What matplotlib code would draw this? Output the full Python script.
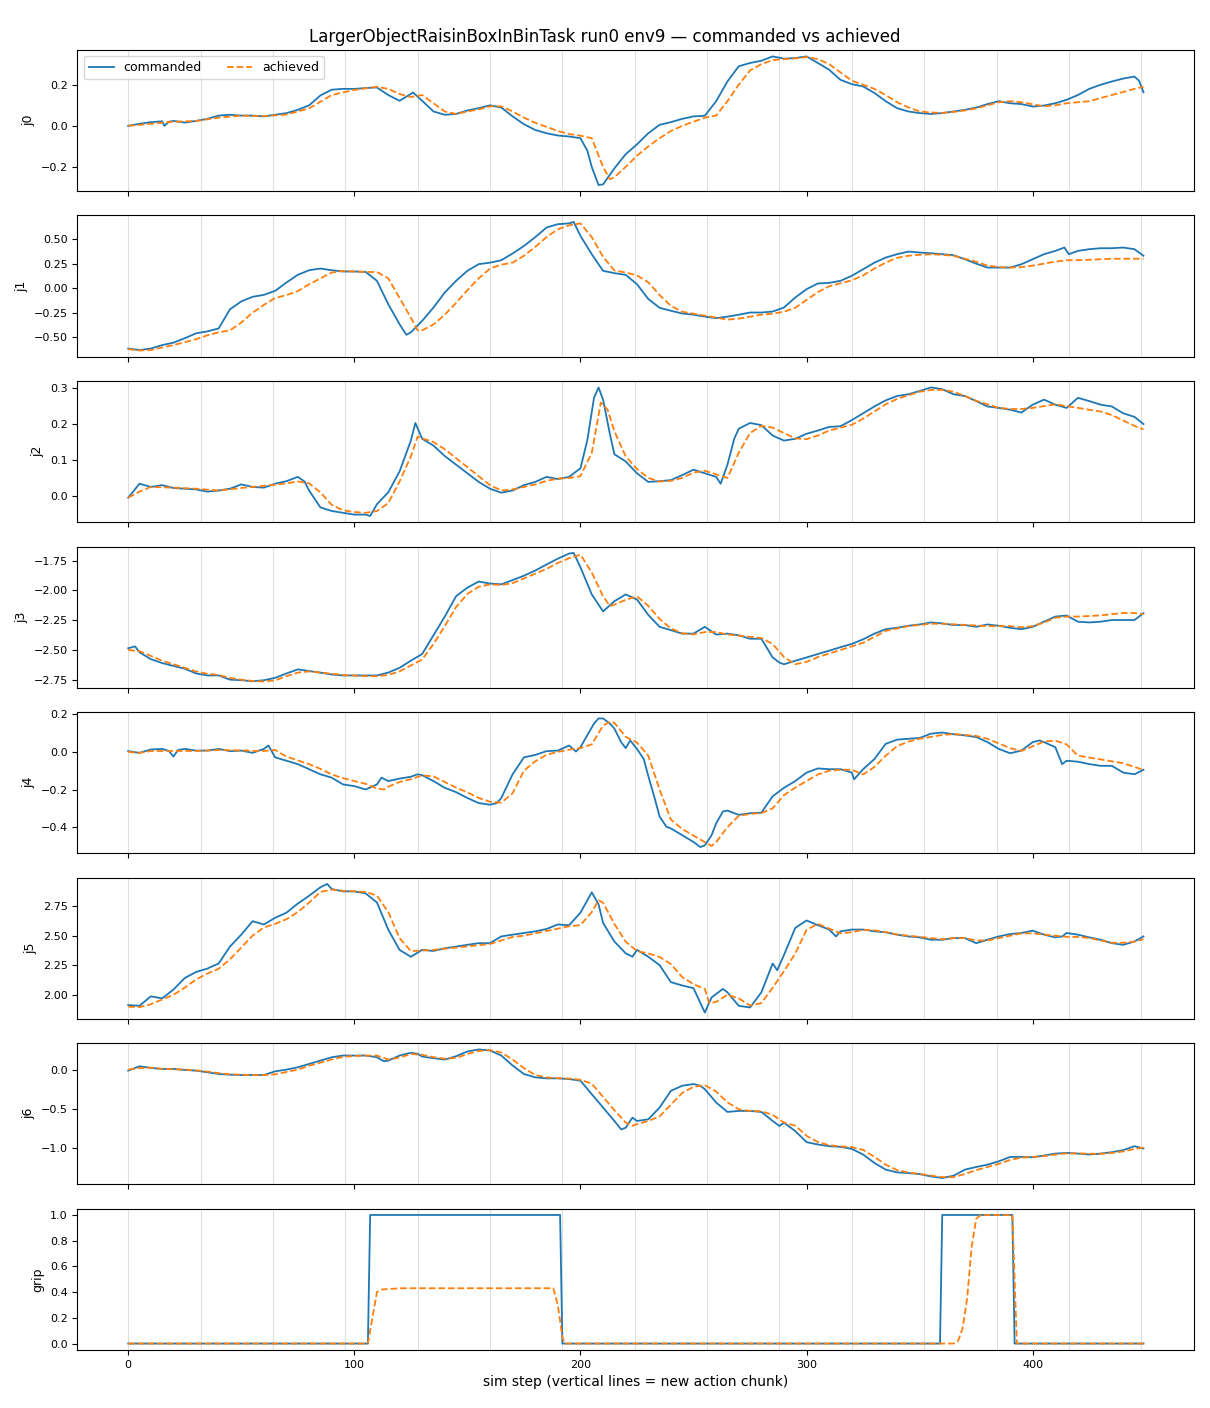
import numpy as np
import matplotlib
matplotlib.use("Agg")
import matplotlib.pyplot as plt
from matplotlib.ticker import MultipleLocator

TITLE = "LargerObjectRaisinBoxInBinTask run0 env9 \u2014 commanded vs achieved"
CHUNK = 32
LAST_STEP = 449

# (sim step, value)
j0_cmd = [(0, 0.0), (5, 0.01), (10, 0.018), (15, 0.022), (16, 0.0), (18, 0.02), (20, 0.024), (25, 0.016),
          (30, 0.024), (35, 0.034), (40, 0.05), (45, 0.054), (50, 0.05), (55, 0.05), (60, 0.046), (65, 0.054),
          (70, 0.062), (75, 0.078), (80, 0.10), (85, 0.148), (90, 0.176), (95, 0.18), (100, 0.18), (105, 0.184),
          (110, 0.187), (115, 0.15), (120, 0.122), (126, 0.162), (130, 0.122), (135, 0.07), (140, 0.054),
          (145, 0.058), (150, 0.075), (155, 0.086), (160, 0.10), (165, 0.089), (170, 0.046), (175, 0.008),
          (180, -0.02), (185, -0.036), (190, -0.047), (195, -0.052), (200, -0.06), (203, -0.12), (205, -0.2),
          (208, -0.288), (210, -0.285), (215, -0.207), (220, -0.138), (225, -0.09), (230, -0.036), (235, 0.005),
          (240, 0.018), (245, 0.034), (250, 0.046), (255, 0.049), (260, 0.12), (265, 0.216), (270, 0.29),
          (275, 0.306), (280, 0.317), (285, 0.338), (290, 0.327), (295, 0.33), (300, 0.338), (305, 0.306),
          (310, 0.273), (315, 0.224), (320, 0.203), (325, 0.192), (330, 0.16), (335, 0.12), (340, 0.086),
          (345, 0.07), (350, 0.062), (355, 0.058), (360, 0.062), (365, 0.07), (370, 0.078), (375, 0.089),
          (380, 0.106), (385, 0.12), (390, 0.11), (395, 0.106), (400, 0.094), (405, 0.099), (410, 0.11),
          (415, 0.127), (420, 0.15), (425, 0.18), (430, 0.2), (435, 0.216), (440, 0.23), (445, 0.24),
          (447, 0.22), (449, 0.163)]
j0_ach = [(0, 0.0), (10, 0.01), (20, 0.02), (30, 0.024), (40, 0.04), (50, 0.05), (60, 0.047), (70, 0.055),
          (80, 0.085), (90, 0.15), (100, 0.175), (110, 0.19), (115, 0.18), (120, 0.155), (125, 0.14),
          (130, 0.15), (135, 0.11), (140, 0.07), (145, 0.058), (150, 0.07), (155, 0.08), (160, 0.095),
          (165, 0.095), (170, 0.07), (175, 0.04), (180, 0.015), (185, -0.005), (190, -0.025), (195, -0.04),
          (200, -0.048), (205, -0.06), (210, -0.2), (213, -0.26), (215, -0.25), (220, -0.2), (225, -0.145),
          (230, -0.1), (235, -0.06), (240, -0.025), (245, 0.0), (250, 0.02), (255, 0.04), (260, 0.05),
          (265, 0.12), (270, 0.2), (275, 0.27), (280, 0.3), (285, 0.32), (290, 0.325), (295, 0.328),
          (300, 0.335), (305, 0.325), (310, 0.3), (315, 0.26), (320, 0.22), (325, 0.2), (330, 0.18),
          (335, 0.15), (340, 0.115), (345, 0.09), (350, 0.07), (355, 0.065), (360, 0.063), (365, 0.068),
          (370, 0.075), (375, 0.085), (380, 0.1), (385, 0.115), (390, 0.12), (395, 0.115), (400, 0.105),
          (405, 0.095), (410, 0.1), (415, 0.11), (420, 0.115), (425, 0.12), (430, 0.135), (435, 0.15),
          (440, 0.165), (445, 0.18), (449, 0.19)]

j1_cmd = [(0, -0.615), (5, -0.63), (10, -0.615), (15, -0.58), (20, -0.555), (25, -0.51), (30, -0.46),
          (35, -0.44), (40, -0.41), (45, -0.215), (50, -0.135), (55, -0.088), (60, -0.068), (65, -0.027),
          (70, 0.058), (75, 0.136), (80, 0.183), (85, 0.2), (90, 0.183), (95, 0.17), (100, 0.17), (105, 0.166),
          (110, 0.075), (115, -0.163), (120, -0.367), (123, -0.475), (125, -0.45), (130, -0.333), (135, -0.197),
          (140, -0.044), (145, 0.075), (150, 0.177), (155, 0.245), (160, 0.26), (165, 0.285), (170, 0.353),
          (175, 0.43), (180, 0.52), (185, 0.618), (190, 0.652), (195, 0.66), (197, 0.675), (200, 0.533),
          (205, 0.346), (210, 0.177), (215, 0.153), (220, 0.136), (225, 0.04), (230, -0.11), (235, -0.2),
          (240, -0.23), (245, -0.258), (250, -0.27), (255, -0.29), (260, -0.305), (265, -0.29), (270, -0.27),
          (275, -0.248), (280, -0.248), (285, -0.238), (290, -0.197), (295, -0.095), (300, -0.01), (305, 0.048),
          (310, 0.054), (315, 0.075), (320, 0.126), (325, 0.193), (330, 0.26), (335, 0.312), (340, 0.346),
          (345, 0.373), (350, 0.363), (355, 0.356), (360, 0.346), (365, 0.336), (370, 0.295), (375, 0.25),
          (380, 0.21), (385, 0.21), (390, 0.21), (395, 0.244), (400, 0.295), (405, 0.346), (410, 0.38),
          (414, 0.414), (416, 0.346), (420, 0.38), (425, 0.397), (430, 0.407), (435, 0.407), (440, 0.414),
          (445, 0.397), (449, 0.33)]
j1_ach = [(0, -0.62), (5, -0.635), (10, -0.63), (15, -0.605), (20, -0.58), (25, -0.55), (30, -0.52),
          (35, -0.48), (40, -0.45), (45, -0.43), (50, -0.35), (55, -0.25), (60, -0.17), (65, -0.1), (70, -0.07),
          (75, -0.03), (80, 0.04), (85, 0.1), (90, 0.16), (95, 0.175), (100, 0.17), (105, 0.165), (110, 0.165),
          (115, 0.1), (120, -0.1), (125, -0.3), (128, -0.43), (130, -0.43), (135, -0.37), (140, -0.27),
          (145, -0.15), (150, -0.02), (155, 0.1), (160, 0.2), (165, 0.24), (170, 0.26), (175, 0.33), (180, 0.42),
          (185, 0.52), (190, 0.6), (195, 0.64), (200, 0.66), (205, 0.52), (210, 0.32), (215, 0.18), (220, 0.16),
          (225, 0.13), (230, 0.06), (235, -0.07), (240, -0.18), (245, -0.24), (250, -0.26), (255, -0.28),
          (260, -0.3), (265, -0.32), (270, -0.31), (275, -0.29), (280, -0.27), (285, -0.26), (290, -0.24),
          (295, -0.2), (300, -0.12), (305, -0.04), (310, 0.02), (315, 0.05), (320, 0.08), (325, 0.13),
          (330, 0.2), (335, 0.26), (340, 0.31), (345, 0.33), (350, 0.34), (355, 0.345), (360, 0.34),
          (365, 0.33), (370, 0.3), (375, 0.27), (380, 0.23), (385, 0.215), (390, 0.21), (395, 0.215),
          (400, 0.23), (405, 0.25), (410, 0.27), (415, 0.285), (420, 0.285), (425, 0.29), (430, 0.295),
          (435, 0.3), (440, 0.3), (445, 0.3), (449, 0.3)]

j2_cmd = [(0, -0.005), (5, 0.034), (10, 0.025), (15, 0.03), (20, 0.022), (25, 0.02), (30, 0.018), (35, 0.012),
          (40, 0.015), (45, 0.02), (50, 0.032), (55, 0.025), (60, 0.023), (65, 0.034), (70, 0.041), (75, 0.053),
          (78, 0.04), (80, 0.015), (85, -0.032), (90, -0.042), (95, -0.047), (100, -0.052), (105, -0.052),
          (107, -0.056), (110, -0.023), (115, 0.01), (120, 0.068), (125, 0.154), (127, 0.203), (130, 0.159),
          (135, 0.14), (140, 0.111), (145, 0.087), (150, 0.063), (155, 0.039), (160, 0.02), (165, 0.009),
          (170, 0.015), (175, 0.03), (180, 0.039), (185, 0.053), (190, 0.047), (195, 0.053), (200, 0.077),
          (203, 0.154), (206, 0.273), (208, 0.302), (210, 0.268), (213, 0.173), (215, 0.116), (220, 0.096),
          (225, 0.063), (230, 0.039), (235, 0.041), (240, 0.044), (245, 0.058), (250, 0.073), (255, 0.063),
          (260, 0.053), (262, 0.034), (265, 0.087), (268, 0.159), (270, 0.187), (275, 0.203), (280, 0.197),
          (285, 0.168), (290, 0.154), (295, 0.159), (300, 0.173), (305, 0.182), (310, 0.192), (315, 0.194),
          (320, 0.211), (325, 0.23), (330, 0.249), (335, 0.266), (340, 0.278), (345, 0.283), (350, 0.292),
          (355, 0.302), (360, 0.297), (365, 0.283), (370, 0.278), (375, 0.264), (380, 0.249), (385, 0.245),
          (390, 0.24), (395, 0.232), (400, 0.254), (405, 0.268), (410, 0.254), (415, 0.245), (420, 0.273),
          (425, 0.264), (430, 0.254), (435, 0.249), (440, 0.23), (445, 0.22), (449, 0.2)]
j2_ach = [(0, -0.005), (5, 0.012), (10, 0.025), (20, 0.023), (30, 0.02), (40, 0.015), (50, 0.022), (60, 0.028),
          (70, 0.035), (75, 0.04), (80, 0.035), (85, 0.01), (90, -0.025), (95, -0.04), (100, -0.045),
          (105, -0.047), (110, -0.042), (115, -0.02), (120, 0.04), (125, 0.11), (128, 0.165), (130, 0.16),
          (135, 0.15), (140, 0.13), (145, 0.105), (150, 0.08), (155, 0.055), (160, 0.03), (165, 0.015),
          (170, 0.018), (175, 0.025), (180, 0.032), (185, 0.042), (190, 0.048), (195, 0.05), (200, 0.055),
          (205, 0.12), (209, 0.26), (212, 0.24), (215, 0.18), (220, 0.11), (225, 0.075), (230, 0.05),
          (235, 0.04), (240, 0.042), (245, 0.05), (250, 0.065), (255, 0.07), (260, 0.06), (265, 0.05),
          (270, 0.12), (275, 0.175), (280, 0.195), (285, 0.19), (290, 0.175), (295, 0.16), (300, 0.158),
          (305, 0.168), (310, 0.182), (315, 0.19), (320, 0.198), (325, 0.215), (330, 0.235), (335, 0.255),
          (340, 0.27), (345, 0.28), (350, 0.29), (355, 0.295), (360, 0.295), (365, 0.29), (370, 0.278),
          (375, 0.265), (380, 0.255), (385, 0.245), (390, 0.242), (395, 0.242), (400, 0.245), (405, 0.25),
          (410, 0.255), (415, 0.25), (420, 0.245), (425, 0.24), (430, 0.235), (435, 0.225), (440, 0.21),
          (445, 0.195), (449, 0.185)]

j3_cmd = [(0, -2.486), (3, -2.47), (5, -2.52), (10, -2.577), (15, -2.61), (20, -2.634), (25, -2.657),
          (30, -2.697), (35, -2.714), (40, -2.714), (45, -2.749), (50, -2.754), (55, -2.763), (60, -2.754),
          (65, -2.734), (70, -2.697), (75, -2.663), (80, -2.677), (85, -2.69), (90, -2.706), (95, -2.714),
          (100, -2.714), (105, -2.714), (110, -2.714), (115, -2.69), (120, -2.65), (125, -2.59), (130, -2.534),
          (135, -2.377), (140, -2.22), (145, -2.049), (150, -1.977), (155, -1.926), (160, -1.943),
          (165, -1.949), (170, -1.914), (175, -1.877), (180, -1.834), (185, -1.783), (190, -1.734),
          (195, -1.691), (197, -1.686), (200, -1.806), (205, -2.034), (210, -2.177), (215, -2.091),
          (220, -2.034), (225, -2.077), (230, -2.206), (235, -2.306), (240, -2.334), (245, -2.363),
          (250, -2.363), (255, -2.306), (260, -2.371), (265, -2.363), (270, -2.377), (275, -2.406),
          (280, -2.406), (285, -2.563), (288, -2.606), (290, -2.62), (295, -2.591), (300, -2.563),
          (305, -2.534), (310, -2.506), (315, -2.477), (320, -2.449), (325, -2.411), (330, -2.363),
          (335, -2.326), (340, -2.314), (345, -2.297), (350, -2.286), (355, -2.269), (360, -2.277),
          (365, -2.291), (370, -2.291), (375, -2.306), (380, -2.286), (385, -2.297), (390, -2.314),
          (395, -2.326), (400, -2.306), (405, -2.263), (410, -2.22), (415, -2.211), (420, -2.263),
          (425, -2.269), (430, -2.263), (435, -2.249), (440, -2.249), (445, -2.249), (449, -2.191)]
j3_ach = [(0, -2.5), (5, -2.51), (10, -2.55), (15, -2.59), (20, -2.62), (25, -2.65), (30, -2.68), (35, -2.7),
          (40, -2.71), (45, -2.735), (50, -2.75), (55, -2.76), (60, -2.765), (65, -2.755), (70, -2.72),
          (75, -2.69), (80, -2.68), (85, -2.69), (90, -2.7), (95, -2.71), (100, -2.715), (105, -2.72),
          (110, -2.72), (115, -2.71), (120, -2.68), (125, -2.63), (130, -2.58), (135, -2.45), (140, -2.3),
          (145, -2.14), (150, -2.03), (155, -1.97), (160, -1.95), (165, -1.955), (170, -1.94), (175, -1.9),
          (180, -1.86), (185, -1.82), (190, -1.77), (195, -1.73), (200, -1.7), (205, -1.85), (210, -2.05),
          (213, -2.13), (215, -2.12), (220, -2.08), (225, -2.05), (230, -2.13), (235, -2.24), (240, -2.32),
          (245, -2.36), (250, -2.37), (255, -2.35), (260, -2.35), (265, -2.37), (270, -2.38), (275, -2.39),
          (280, -2.4), (285, -2.45), (290, -2.56), (295, -2.62), (300, -2.6), (305, -2.56), (310, -2.53),
          (315, -2.5), (320, -2.47), (325, -2.44), (330, -2.39), (335, -2.34), (340, -2.32), (345, -2.3),
          (350, -2.29), (355, -2.28), (360, -2.28), (365, -2.285), (370, -2.29), (375, -2.295), (380, -2.3),
          (385, -2.3), (390, -2.3), (395, -2.31), (400, -2.3), (405, -2.27), (410, -2.23), (415, -2.22),
          (420, -2.22), (425, -2.215), (430, -2.21), (435, -2.2), (440, -2.19), (445, -2.19), (449, -2.2)]

j4_cmd = [(0, 0.004), (5, -0.005), (10, 0.013), (15, 0.016), (18, 0.005), (20, -0.025), (22, 0.01),
          (25, 0.016), (30, 0.007), (35, 0.007), (40, 0.016), (45, 0.004), (50, 0.007), (55, -0.005),
          (60, 0.016), (62, 0.034), (65, -0.029), (70, -0.047), (75, -0.065), (80, -0.092), (85, -0.119),
          (90, -0.137), (95, -0.173), (100, -0.182), (105, -0.2), (110, -0.173), (112, -0.137), (115, -0.155),
          (120, -0.142), (125, -0.132), (128, -0.119), (130, -0.124), (135, -0.155), (140, -0.191),
          (145, -0.214), (150, -0.245), (155, -0.272), (160, -0.281), (163, -0.272), (165, -0.245),
          (170, -0.119), (175, -0.029), (180, -0.016), (185, 0.004), (190, 0.007), (195, 0.034), (198, 0.002),
          (200, 0.025), (203, 0.088), (206, 0.151), (208, 0.178), (210, 0.178), (213, 0.151), (215, 0.124),
          (218, 0.052), (220, 0.02), (222, 0.061), (225, 0.016), (228, -0.038), (230, -0.128), (233, -0.254),
          (235, -0.344), (238, -0.398), (240, -0.407), (245, -0.443), (250, -0.479), (253, -0.506),
          (255, -0.497), (258, -0.443), (260, -0.38), (263, -0.317), (265, -0.312), (270, -0.335),
          (275, -0.326), (280, -0.323), (285, -0.236), (290, -0.191), (295, -0.155), (300, -0.11),
          (305, -0.088), (310, -0.092), (315, -0.092), (320, -0.11), (321, -0.146), (325, -0.092),
          (330, -0.038), (335, 0.043), (340, 0.065), (345, 0.07), (350, 0.074), (355, 0.097), (360, 0.103),
          (365, 0.094), (370, 0.088), (375, 0.079), (380, 0.052), (385, 0.016), (390, -0.007), (395, 0.007),
          (400, 0.052), (403, 0.061), (405, 0.052), (410, 0.025), (413, -0.065), (415, -0.047), (420, -0.052),
          (425, -0.065), (430, -0.074), (435, -0.074), (440, -0.11), (445, -0.119), (449, -0.095)]
j4_ach = [(0, 0.0), (5, -0.005), (10, 0.005), (20, 0.005), (30, 0.005), (40, 0.01), (50, 0.008), (55, 0.005),
          (60, 0.005), (65, 0.01), (70, -0.025), (75, -0.045), (80, -0.065), (85, -0.09), (90, -0.12),
          (95, -0.14), (100, -0.155), (105, -0.17), (110, -0.195), (113, -0.2), (115, -0.185), (120, -0.16),
          (125, -0.145), (130, -0.125), (135, -0.13), (140, -0.16), (145, -0.19), (150, -0.215), (155, -0.245),
          (160, -0.265), (165, -0.27), (170, -0.22), (175, -0.1), (180, -0.05), (185, -0.015), (190, 0.0),
          (195, 0.012), (200, 0.02), (205, 0.04), (210, 0.14), (213, 0.16), (215, 0.155), (220, 0.08),
          (225, 0.05), (230, -0.02), (235, -0.2), (240, -0.36), (245, -0.41), (250, -0.445), (255, -0.48),
          (258, -0.5), (260, -0.48), (265, -0.4), (270, -0.34), (275, -0.33), (280, -0.325), (285, -0.3),
          (290, -0.23), (295, -0.19), (300, -0.155), (305, -0.12), (310, -0.1), (315, -0.095), (320, -0.095),
          (325, -0.12), (330, -0.08), (335, -0.02), (340, 0.03), (345, 0.055), (350, 0.07), (355, 0.08),
          (360, 0.09), (365, 0.095), (370, 0.09), (375, 0.085), (380, 0.07), (385, 0.045), (390, 0.02),
          (395, 0.005), (400, 0.03), (405, 0.055), (410, 0.06), (415, 0.04), (420, -0.02), (425, -0.03),
          (430, -0.04), (435, -0.05), (440, -0.06), (445, -0.08), (449, -0.095)]

j5_cmd = [(0, 1.913), (5, 1.907), (10, 1.987), (15, 1.97), (20, 2.044), (25, 2.142), (30, 2.193), (35, 2.222),
          (40, 2.265), (45, 2.408), (50, 2.509), (55, 2.623), (60, 2.595), (65, 2.652), (70, 2.695),
          (75, 2.772), (80, 2.838), (85, 2.91), (88, 2.938), (90, 2.895), (95, 2.875), (100, 2.875),
          (105, 2.858), (110, 2.781), (115, 2.552), (120, 2.38), (125, 2.322), (130, 2.38), (135, 2.371),
          (140, 2.394), (145, 2.408), (150, 2.423), (155, 2.437), (160, 2.437), (165, 2.494), (170, 2.509),
          (175, 2.523), (180, 2.537), (185, 2.557), (190, 2.595), (195, 2.589), (200, 2.695), (205, 2.867),
          (208, 2.766), (210, 2.609), (215, 2.451), (220, 2.351), (223, 2.322), (225, 2.38), (230, 2.322),
          (235, 2.251), (240, 2.107), (245, 2.079), (250, 2.056), (255, 1.85), (258, 1.978), (260, 2.007),
          (263, 2.05), (265, 2.021), (270, 1.907), (275, 1.893), (280, 2.021), (285, 2.265), (287, 2.208),
          (290, 2.337), (295, 2.566), (300, 2.629), (305, 2.589), (310, 2.552), (313, 2.494), (315, 2.537),
          (320, 2.552), (325, 2.552), (330, 2.537), (335, 2.529), (340, 2.509), (345, 2.494), (350, 2.486),
          (355, 2.466), (360, 2.466), (365, 2.48), (370, 2.48), (375, 2.437), (380, 2.466), (385, 2.494),
          (390, 2.514), (395, 2.523), (400, 2.543), (405, 2.509), (410, 2.486), (413, 2.494), (415, 2.523),
          (420, 2.509), (425, 2.486), (430, 2.466), (435, 2.437), (440, 2.423), (445, 2.451), (449, 2.494)]
j5_ach = [(0, 1.9), (5, 1.895), (10, 1.92), (15, 1.96), (20, 2.0), (25, 2.06), (30, 2.13), (35, 2.18),
          (40, 2.22), (45, 2.3), (50, 2.4), (55, 2.5), (60, 2.57), (65, 2.6), (70, 2.64), (75, 2.7), (80, 2.78),
          (85, 2.87), (90, 2.89), (95, 2.88), (100, 2.875), (105, 2.87), (110, 2.84), (115, 2.7), (120, 2.48),
          (125, 2.37), (130, 2.375), (135, 2.38), (140, 2.39), (145, 2.4), (150, 2.41), (155, 2.42),
          (160, 2.43), (165, 2.46), (170, 2.49), (175, 2.5), (180, 2.52), (185, 2.54), (190, 2.56),
          (195, 2.58), (200, 2.59), (205, 2.7), (208, 2.8), (210, 2.78), (215, 2.6), (220, 2.45), (225, 2.37),
          (230, 2.35), (235, 2.32), (240, 2.26), (245, 2.15), (250, 2.09), (255, 2.05), (257, 1.93),
          (260, 1.94), (265, 2.0), (270, 1.97), (275, 1.91), (280, 1.93), (285, 2.06), (290, 2.2), (295, 2.35),
          (300, 2.55), (305, 2.6), (310, 2.56), (315, 2.52), (320, 2.53), (325, 2.55), (330, 2.545),
          (335, 2.53), (340, 2.51), (345, 2.5), (350, 2.49), (355, 2.48), (360, 2.47), (365, 2.48),
          (370, 2.48), (375, 2.46), (380, 2.46), (385, 2.48), (390, 2.5), (395, 2.52), (400, 2.52),
          (405, 2.51), (410, 2.5), (415, 2.49), (420, 2.49), (425, 2.48), (430, 2.46), (435, 2.44),
          (440, 2.44), (445, 2.45), (449, 2.47)]

j6_cmd = [(0, -0.013), (5, 0.043), (10, 0.022), (15, 0.009), (20, 0.009), (25, -0.004), (30, -0.013),
          (35, -0.034), (40, -0.056), (45, -0.065), (50, -0.069), (55, -0.069), (60, -0.069), (65, -0.022),
          (70, 0.0), (75, 0.03), (80, 0.073), (85, 0.116), (90, 0.159), (95, 0.181), (100, 0.181), (105, 0.181),
          (110, 0.159), (113, 0.108), (115, 0.116), (120, 0.181), (125, 0.216), (128, 0.203), (130, 0.168),
          (135, 0.147), (140, 0.129), (145, 0.172), (150, 0.233), (155, 0.259), (160, 0.246), (165, 0.181),
          (170, 0.052), (175, -0.056), (180, -0.099), (185, -0.112), (190, -0.112), (195, -0.121),
          (200, -0.142), (205, -0.315), (210, -0.487), (215, -0.659), (218, -0.767), (220, -0.746),
          (223, -0.616), (225, -0.659), (230, -0.638), (235, -0.487), (240, -0.272), (245, -0.207),
          (250, -0.185), (253, -0.207), (255, -0.25), (260, -0.422), (265, -0.543), (270, -0.53), (275, -0.53),
          (280, -0.543), (285, -0.659), (288, -0.724), (290, -0.681), (295, -0.789), (300, -0.931),
          (305, -0.961), (310, -0.983), (315, -0.991), (320, -1.017), (325, -1.09), (330, -1.198),
          (335, -1.284), (340, -1.319), (345, -1.328), (350, -1.341), (355, -1.371), (360, -1.392),
          (365, -1.362), (370, -1.284), (375, -1.25), (380, -1.22), (385, -1.177), (390, -1.121),
          (395, -1.121), (400, -1.125), (405, -1.103), (410, -1.078), (415, -1.069), (420, -1.078),
          (425, -1.09), (430, -1.078), (435, -1.06), (440, -1.034), (445, -0.983), (449, -1.013)]
j6_ach = [(0, 0.0), (5, 0.02), (10, 0.025), (15, 0.01), (20, 0.005), (25, 0.0), (30, -0.01), (35, -0.025),
          (40, -0.045), (45, -0.06), (50, -0.065), (55, -0.07), (60, -0.07), (65, -0.06), (70, -0.03),
          (75, 0.0), (80, 0.05), (85, 0.09), (90, 0.13), (95, 0.165), (100, 0.175), (105, 0.18), (110, 0.18),
          (115, 0.13), (120, 0.155), (125, 0.2), (130, 0.19), (135, 0.16), (140, 0.14), (145, 0.15),
          (150, 0.2), (155, 0.24), (160, 0.25), (165, 0.22), (170, 0.13), (175, 0.02), (180, -0.07),
          (185, -0.1), (190, -0.11), (195, -0.115), (200, -0.13), (205, -0.18), (210, -0.35), (215, -0.52),
          (220, -0.68), (223, -0.72), (225, -0.7), (230, -0.66), (235, -0.6), (240, -0.45), (245, -0.3),
          (250, -0.22), (255, -0.2), (260, -0.28), (265, -0.42), (270, -0.51), (275, -0.53), (280, -0.535),
          (285, -0.58), (290, -0.68), (295, -0.72), (300, -0.85), (305, -0.93), (310, -0.97), (315, -0.985),
          (320, -0.995), (325, -1.03), (330, -1.12), (335, -1.22), (340, -1.29), (345, -1.32), (350, -1.34),
          (355, -1.36), (360, -1.38), (365, -1.38), (370, -1.34), (375, -1.29), (380, -1.25), (385, -1.21),
          (390, -1.16), (395, -1.13), (400, -1.12), (405, -1.11), (410, -1.09), (415, -1.075), (420, -1.075),
          (425, -1.08), (430, -1.08), (435, -1.07), (440, -1.05), (445, -1.02), (449, -1.0)]

grip_cmd = [(0, 0.0), (106, 0.0), (107, 1.0), (191, 1.0), (192, 0.0), (359, 0.0), (360, 1.0), (391, 1.0),
            (392, 0.0), (449, 0.0)]
grip_ach = [(0, 0.0), (106, 0.0), (108, 0.2), (110, 0.4), (112, 0.42), (120, 0.43), (188, 0.43), (190, 0.3),
            (192, 0.05), (193, 0.0), (365, 0.0), (367, 0.02), (369, 0.12), (371, 0.35), (373, 0.75),
            (375, 0.97), (377, 1.0), (391, 1.0), (392, 0.5), (393, 0.0), (449, 0.0)]

JOINTS = [("j0", j0_cmd, j0_ach), ("j1", j1_cmd, j1_ach), ("j2", j2_cmd, j2_ach), ("j3", j3_cmd, j3_ach),
          ("j4", j4_cmd, j4_ach), ("j5", j5_cmd, j5_ach), ("j6", j6_cmd, j6_ach), ("grip", grip_cmd, grip_ach)]

# joints whose y ticks step by 0.25 in the reference
QUARTER_TICKS = ("j1", "j3", "j5")


def main():
    fig, axes = plt.subplots(len(JOINTS), 1, figsize=(12.1, 14.08), dpi=100, sharex=True)
    fig.subplots_adjust(left=0.064, right=0.987, top=0.9645, bottom=0.0412, hspace=0.17)

    for ax, (name, cmd, ach) in zip(axes, JOINTS):
        cmd = np.array(cmd)
        ach = np.array(ach)
        for s in range(0, LAST_STEP + 1, CHUNK):
            ax.axvline(s, color="gray", alpha=0.25, lw=0.8, zorder=0)
        ax.plot(cmd[:, 0], cmd[:, 1], "-", color="C0", lw=1.3, label="commanded")
        ax.plot(ach[:, 0], ach[:, 1], "--", color="C1", lw=1.3, label="achieved")
        ax.set_ylabel(name, fontsize=9)
        ax.tick_params(labelsize=8)
        if name in QUARTER_TICKS:
            ax.yaxis.set_major_locator(MultipleLocator(0.25))

    axes[0].legend(loc="upper left", ncol=2, fontsize=9)
    axes[-1].set_xlabel("sim step (vertical lines = new action chunk)", fontsize=10)
    fig.suptitle(TITLE, fontsize=12)
    fig.savefig("out.png", dpi=100)
    plt.close(fig)


if __name__ == "__main__":
    main()
